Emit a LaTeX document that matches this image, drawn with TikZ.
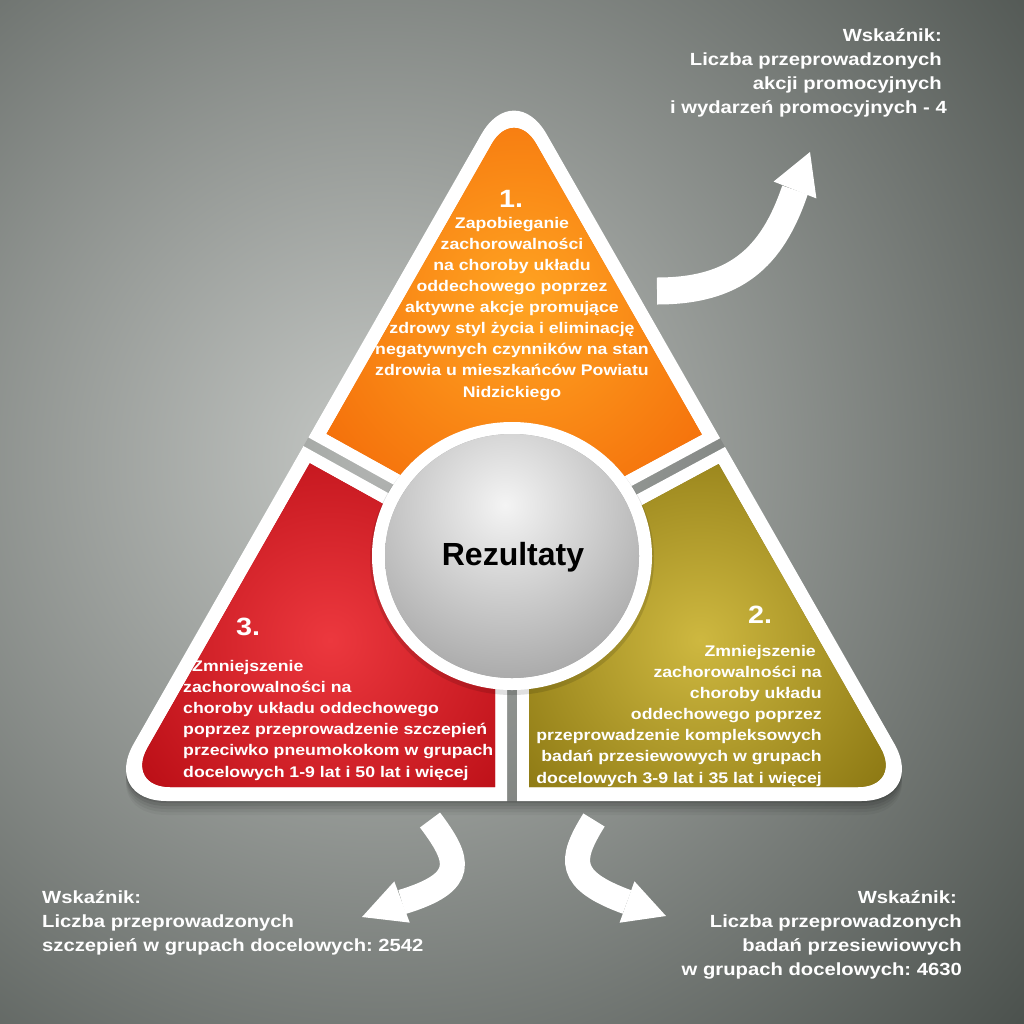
\documentclass[tikz,border=0pt]{standalone}
\usepackage{fontspec}
\setmainfont{Liberation Sans}
\newfontfamily\bodyfont{Liberation Sans}[FakeStretch=1.15]
\usetikzlibrary{calc}
\frenchspacing
\definecolor{bgin}{RGB}{198,201,198}
\definecolor{bgout}{RGB}{72,78,74}
\definecolor{orIn}{RGB}{255,164,34}
\definecolor{orOut}{RGB}{244,110,10}
\definecolor{rdIn}{RGB}{236,56,62}
\definecolor{rdOut}{RGB}{184,12,20}
\definecolor{gdIn}{RGB}{206,184,64}
\definecolor{gdOut}{RGB}{136,116,16}
\definecolor{cirIn}{RGB}{244,244,244}
\definecolor{cirOut}{RGB}{168,168,168}
\tikzset{
  body/.style={text=white, inner sep=0pt, font=\bodyfont\bfseries\fontsize{15.4}{21.1}\selectfont\frenchspacing},
  num/.style={text=white, inner sep=0pt, font=\bodyfont\bfseries\fontsize{25}{28}\selectfont},
  ind/.style={text=white, inner sep=0pt, font=\bodyfont\bfseries\fontsize{17.6}{24}\selectfont\frenchspacing},
  shaftA/.style={draw=white, line width=27pt, line cap=butt},
  shaftB/.style={draw=white, line width=25pt, line cap=butt},
  headfill/.style={fill=white}
}
\def\outerTri{(720.5,439) -- (927,801) -- (101,801) -- (514,77) -- cycle}
\def\innerTri{(708.35,446) -- (902.7,787) -- (125.3,787) -- (514,105) -- cycle}
\begin{document}
\begin{tikzpicture}[x=1pt,y=-1pt]
\useasboundingbox (0,0) rectangle (1024,1023);
% background
\begin{scope}
  \clip (0,0) rectangle (1024,1023);
  \fill[bgout] (0,0) rectangle (1024,1023);
  \shade[inner color=bgin, outer color=bgout] (380,460) circle (880pt);
\end{scope}
% drop shadow of the triangle (only outside it)
\begin{scope}[even odd rule]
  \clip[rounded corners=66pt] (-10,-10) rectangle (1034,1033) \outerTri;
  \foreach \s/\o in {2/0.10,5/0.08,8/0.07,11/0.05,14/0.04}{
    \fill[black, opacity=\o, rounded corners=66pt, shift={(0,\s)}] \outerTri;
  }
\end{scope}
% white pieces
\begin{scope}
  \clip[rounded corners=66pt] \outerTri;
  \fill[black, opacity=0.10] (0,0) rectangle (1024,1023);
  \fill[white] (512.04,550.3) -- (-800.5,-177.2) -- (-800,-1200) -- (1900,-1200) -- (1832,-160.7) -- cycle;
  \fill[white] (507,558.9) -- (-805.5,-168.6) -- (-1000,2000) -- (507,2000) -- cycle;
  \fill[white] (517,559) -- (517,2000) -- (2000,2000) -- (1837,-152) -- cycle;
\end{scope}
% orange
\begin{scope}
  \clip[rounded corners=45pt] \innerTri;
  \clip (512.1,536.6) -- (-800.4,-190.9) -- (-800,-1200) -- (1900,-1200) -- (1832.1,-174.4) -- cycle;
  \fill[orOut] (0,0) rectangle (1024,1023);
  \shade[inner color=orIn, outer color=orOut] (520,300) circle (250pt);
\end{scope}
% red
\begin{scope}
  \clip[rounded corners=45pt] \innerTri;
  \clip (495,566) -- (-817.5,-161.5) -- (-1000,2000) -- (495,2000) -- cycle;
  \fill[rdOut] (0,0) rectangle (1024,1023);
  \shade[inner color=rdIn, outer color=rdOut] (330,640) circle (250pt);
\end{scope}
% gold
\begin{scope}
  \clip[rounded corners=45pt] \innerTri;
  \clip (529,566.2) -- (529,2000) -- (2000,2000) -- (1849,-144.8) -- cycle;
  \fill[gdOut] (0,0) rectangle (1024,1023);
  \shade[inner color=gdIn, outer color=gdOut] (700,640) circle (250pt);
\end{scope}
% central circle
\fill[black, opacity=0.12] (512,559) ellipse (142pt and 136pt);
\fill[white] (512,556) ellipse (140pt and 134pt);
\begin{scope}
  \clip (512,556) ellipse (127pt and 122pt);
  \fill[cirOut] (380,420) rectangle (650,690);
  \shade[inner color=cirIn, outer color=cirOut] (505,505) circle (180pt);
\end{scope}
\node[inner sep=0pt, anchor=base, font=\bfseries\fontsize{32}{36}\selectfont] (rez) at (513,565) {Rezultaty};
% texts in segments (anchor base = baseline of the last line)
\node[num, anchor=base] (n1) at (511,207) {1.};
\node[body, anchor=base, align=center] (t1) at (512,397) {Zapobieganie\\zachorowalności\\na choroby układu\\oddechowego poprzez\\aktywne akcje promujące\\zdrowy styl życia i eliminację\\negatywnych czynników na stan\\zdrowia u mieszkańców Powiatu\\Nidzickiego};
\node[num, anchor=base] (n3) at (248,635) {3.};
\node[body, anchor=base west, align=left] (t3) at (183,777) {\hspace*{9pt}Zmniejszenie\\zachorowalności na\\choroby układu oddechowego\\poprzez przeprowadzenie szczepień\\przeciwko pneumokokom w grupach\\docelowych 1-9 lat i 50 lat i więcej};
\node[num, anchor=base] (n2) at (760,623) {2.};
\node[body, anchor=base east, align=right] (t2) at (822,783) {Zmniejszenie\hspace*{6pt}\\zachorowalności na\\choroby układu\\oddechowego poprzez\\przeprowadzenie kompleksowych\\badań przesiewowych w grupach\\docelowych 3-9 lat i 35 lat i więcej};
% indicators
\node[ind, anchor=base east, align=right] (w1) at (942,113) {Wskaźnik:\\Liczba przeprowadzonych\\akcji promocyjnych\\i wydarzeń promocyjnych - 4\hspace*{-5pt}};
\node[ind, anchor=base west, align=left] (w3) at (42,951) {Wskaźnik:\\Liczba przeprowadzonych\\szczepień w grupach docelowych: 2542};
\node[ind, anchor=base east, align=right] (w2) at (962,975) {Wskaźnik:\hspace*{5pt}\\Liczba przeprowadzonych\hspace*{7pt}\\badań przesiewiowych\\w grupach docelowych: 4630};
% arrows
\coordinate (a1tail) at (657,291);
\coordinate (a1base) at (795,190);
\coordinate (a1tip) at (810,152);
\path[shaftA] (a1tail) .. controls (735,291) and (772,258) .. (a1base);
\fill[headfill] ($(a1base)!23pt!90:(a1tip)$) -- (a1tip) -- ($(a1base)!23pt!-90:(a1tip)$) -- cycle;
\coordinate (a3tail) at (430,820);
\coordinate (a3base) at (402,902);
\coordinate (a3tip) at (362,917);
\path[shaftB] (a3tail) .. controls (460,860) and (468,882) .. (a3base);
\fill[headfill] ($(a3base)!22pt!90:(a3tip)$) -- (a3tip) -- ($(a3base)!22pt!-90:(a3tip)$) -- cycle;
\coordinate (a2tail) at (594,820);
\coordinate (a2base) at (627,902);
\coordinate (a2tip) at (666,916);
\path[shaftB] (a2tail) .. controls (569,860) and (567,880) .. (a2base);
\fill[headfill] ($(a2base)!22pt!90:(a2tip)$) -- (a2tip) -- ($(a2base)!22pt!-90:(a2tip)$) -- cycle;
\end{tikzpicture}
\end{document}
